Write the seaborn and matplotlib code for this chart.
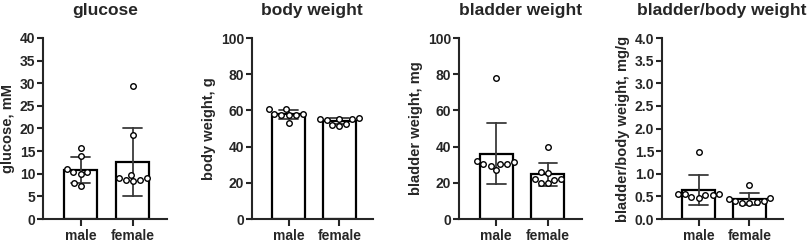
import numpy as np
import pandas as pd
import matplotlib
matplotlib.use("Agg")
import matplotlib.pyplot as plt
from matplotlib.ticker import FormatStrFormatter
import seaborn as sns

groups = ["male", "female"]

glucose_male = [15.7, 13.9, 10.3, 10.4, 11.0, 9.9, 7.3, 8.0]
glucose_female = [29.3, 18.5, 9.8, 8.7, 9.1, 8.7, 9.1, 8.3]

body_male = [60.5, 61.0, 58.0, 57.5, 57.5, 58.0, 57.5, 53.0]
body_female = [56.0, 55.5, 55.0, 54.5, 55.5, 52.0, 52.5, 51.5]

bladder_male = [78.0, 31.4, 30.4, 27.1, 30.4, 32.3, 29.5, 30.4]
bladder_female = [39.7, 26.2, 25.6, 22.1, 22.1, 21.6, 19.7, 19.7]

ratio_male = [1.47, 0.52, 0.55, 0.55, 0.47, 0.55, 0.48, 0.52]
ratio_female = [0.75, 0.47, 0.35, 0.40, 0.40, 0.38, 0.45, 0.36]

panels = [
    ("glucose", "glucose, mM", glucose_male, glucose_female, np.arange(0, 41, 5), "%d"),
    ("body weight", "body weight, g", body_male, body_female, np.arange(0, 101, 20), "%d"),
    ("bladder weight", "bladder weight, mg", bladder_male, bladder_female, np.arange(0, 101, 20), "%d"),
    ("bladder/body weight", "bladder/body weight, mg/g", ratio_male, ratio_female, np.arange(0, 4.01, 0.5), "%.1f"),
]

sns.set_style("ticks")
plt.rcParams["font.family"] = ["Liberation Sans", "DejaVu Sans"]
plt.rcParams["font.weight"] = "bold"
plt.rcParams["axes.labelweight"] = "bold"

fig = plt.figure(figsize=(8.09, 2.43), dpi=100)
lefts = [43, 252, 459, 662]
widths = [124, 121, 123, 121]
title_x = [105, 312, 521, 722]

for (title, ylabel, m, f, yticks, fmt), left, w, tx in zip(panels, lefts, widths, title_x):
    ax = fig.add_axes([left / 809, 1 - 219 / 243, w / 809, 181 / 243])
    df = pd.DataFrame({
        "group": ["male"] * len(m) + ["female"] * len(f),
        "value": list(m) + list(f),
    })
    sns.barplot(data=df, x="group", y="value", order=groups, errorbar="sd",
                width=0.64, color="white", edgecolor="black", linewidth=1.6,
                capsize=0.36, err_kws={"color": "#3a3a3a", "linewidth": 1.3},
                ax=ax)
    sns.swarmplot(data=df, x="group", y="value", order=groups, size=4.0,
                  color="white", edgecolor="black", linewidth=1.0, ax=ax, zorder=5)
    ax.set_xlim(-0.72, 1.66)
    ax.set_ylim(0, yticks[-1])
    ax.set_yticks(yticks)
    ax.yaxis.set_major_formatter(FormatStrFormatter(fmt))
    ax.set_xlabel("")
    ax.set_ylabel(ylabel, fontsize=10.5, labelpad=3.5)
    sns.despine(ax=ax)
    for s in ["left", "bottom"]:
        ax.spines[s].set_linewidth(1.5)
    ax.tick_params(axis="y", width=1.5, length=4, labelsize=10, pad=1.5)
    ax.tick_params(axis="x", width=1.5, length=5, labelsize=10, pad=2.5)
    for lab in ax.get_xticklabels() + ax.get_yticklabels():
        lab.set_fontweight("bold")
    fig.text(tx / 809, 1 - 10.5 / 243, title, ha="center", va="center",
             fontsize=12.5, fontweight="bold")

fig.savefig("out.png", dpi=100)
